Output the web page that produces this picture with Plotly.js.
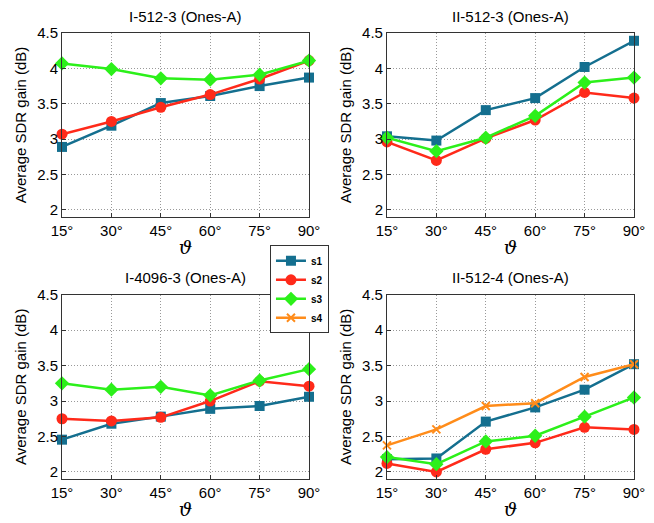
<!DOCTYPE html>
<html><head><meta charset="utf-8">
<script src="https://cdn.plot.ly/plotly-3.0.1.min.js"></script>
<style>html,body{margin:0;padding:0;background:#fff}#chart{width:654px;height:523px}</style>
</head><body><div id="chart"></div>
<script>
const angles = [15, 30, 45, 60, 75, 90];
const angleLabels = ["15°", "30°", "45°", "60°", "75°", "90°"];
const yTicks = [2, 2.5, 3, 3.5, 4, 4.5];
const yTickLabels = ["2", "2.5", "3", "3.5", "4", "4.5"];
const seriesNames = ["s1", "s2", "s3", "s4"];
const panelTitles = ["I-512-3 (Ones-A)", "II-512-3 (Ones-A)", "I-4096-3 (Ones-A)", "II-512-4 (Ones-A)"];

// Panel 1: I-512-3
const p1_s1 = [2.89, 3.19, 3.51, 3.61, 3.75, 3.87];
const p1_s2 = [3.07, 3.25, 3.45, 3.63, 3.85, 4.11];
const p1_s3 = [4.07, 3.99, 3.86, 3.84, 3.91, 4.11];
// Panel 2: II-512-3
const p2_s1 = [3.04, 2.98, 3.41, 3.58, 4.02, 4.39];
const p2_s2 = [2.96, 2.70, 3.01, 3.27, 3.66, 3.58];
const p2_s3 = [3.02, 2.83, 3.02, 3.33, 3.80, 3.87];
// Panel 3: I-4096-3
const p3_s1 = [2.455, 2.68, 2.78, 2.89, 2.93, 3.06];
const p3_s2 = [2.75, 2.72, 2.77, 3.00, 3.28, 3.21];
const p3_s3 = [3.25, 3.16, 3.20, 3.08, 3.29, 3.45];
// Panel 4: II-512-4
const p4_s1 = [2.18, 2.19, 2.71, 2.91, 3.16, 3.52];
const p4_s2 = [2.12, 2.00, 2.32, 2.41, 2.63, 2.60];
const p4_s3 = [2.21, 2.11, 2.43, 2.51, 2.78, 3.05];
const p4_s4 = [2.375, 2.60, 2.93, 2.97, 3.34, 3.52];

const colors = ["#146f8f", "#ff2a1a", "#2cf01a", "#ff8c1a"];
const symbols = ["square", "circle", "diamond", "x-thin-open"];
const msizes = [10, 11, 11, 8];

const panels = [
  [p1_s1, p1_s2, p1_s3],
  [p2_s1, p2_s2, p2_s3],
  [p3_s1, p3_s2, p3_s3],
  [p4_s1, p4_s2, p4_s3, p4_s4]
];

const traces = [];
panels.forEach((ser, pi) => {
  const ax = pi === 0 ? "" : String(pi + 1);
  ser.forEach((vals, si) => {
    traces.push({
      x: angles, y: vals, type: "scatter", mode: "lines+markers",
      name: seriesNames[si],
      legendgroup: seriesNames[si],
      showlegend: pi === 3,
      xaxis: "x" + ax, yaxis: "y" + ax,
      cliponaxis: false,
      line: {color: colors[si], width: 2.5},
      marker: {symbol: symbols[si], size: msizes[si], color: colors[si],
               line: {color: colors[si], width: si === 3 ? 2 : 0}}
    });
  });
});

const xDomains = [[0.0948, 0.4725], [0.5917, 0.9694]];
const yDomains = [[0.5851, 0.9369], [0.0841, 0.4365]];
const fontFam = "Liberation Sans, Arial, sans-serif";
const layout = {
  width: 654, height: 523,
  margin: {l: 0, r: 0, t: 0, b: 0},
  paper_bgcolor: "#fff", plot_bgcolor: "#fff",
  font: {family: fontFam, color: "#000"},
  showlegend: true,
  legend: {x: 0.4128, y: 0.531, xanchor: "left", yanchor: "top",
           bordercolor: "#333", borderwidth: 1, bgcolor: "#fff",
           font: {size: 10, family: fontFam, weight: "bold"},
           tracegroupgap: 0, itemwidth: 30},
  annotations: []
};
for (let i = 0; i < 4; i++) {
  const ax = i === 0 ? "" : String(i + 1);
  const xd = xDomains[i % 2], yd = yDomains[Math.floor(i / 2)];
  layout["xaxis" + ax] = {
    domain: xd, anchor: "y" + ax, range: [15, 90],
    tickvals: angles, ticktext: angleLabels,
    showgrid: true, gridcolor: "#999", griddash: "1px,2px", gridwidth: 1,
    showline: true, linecolor: "#333", linewidth: 1, mirror: true,
    ticks: "inside", ticklen: 4, tickcolor: "#333",
    tickfont: {size: 15, family: fontFam},
    zeroline: false, fixedrange: true,
    title: {text: "<i>ϑ</i>", font: {size: 19, family: "DejaVu Serif, serif"}, standoff: 2}
  };
  layout["yaxis" + ax] = {
    domain: yd, anchor: "x" + ax, range: [1.9, 4.5],
    tickvals: yTicks, ticktext: yTickLabels,
    showgrid: true, gridcolor: "#999", griddash: "1px,2px", gridwidth: 1,
    showline: true, linecolor: "#333", linewidth: 1, mirror: true,
    ticks: "inside", ticklen: 4, tickcolor: "#333",
    tickfont: {size: 15, family: fontFam},
    zeroline: false, fixedrange: true,
    title: {text: "Average SDR gain (dB)", font: {size: 15, family: fontFam}, standoff: 6}
  };
  layout.annotations.push({
    text: panelTitles[i], showarrow: false,
    xref: "paper", yref: "paper",
    x: (xd[0] + xd[1]) / 2, y: yd[1] + 0.012, xanchor: "center", yanchor: "bottom",
    font: {size: 15, family: fontFam}
  });
}
Plotly.newPlot("chart", traces, layout, {displayModeBar: false, staticPlot: true});
</script>
</body></html>
